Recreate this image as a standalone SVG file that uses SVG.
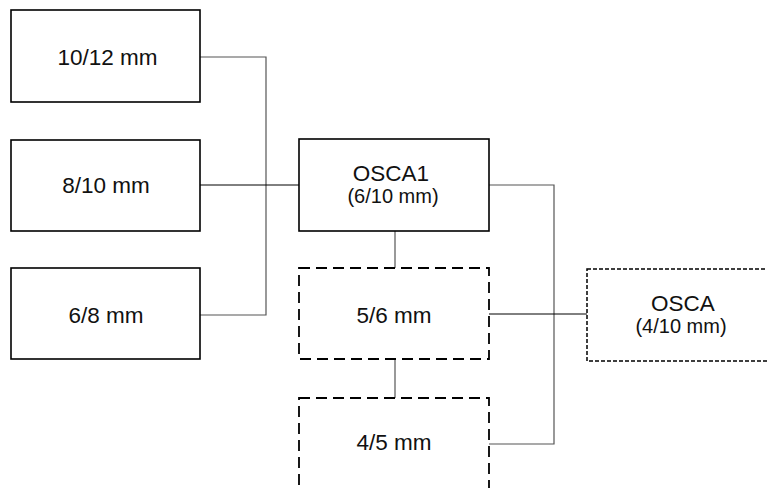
<svg xmlns="http://www.w3.org/2000/svg" width="767" height="488" viewBox="0 0 767 488">
<style>
.box{fill:#fff;stroke:#000;stroke-width:1.6}
.dash{fill:#fff;stroke:#000;stroke-width:1.8;stroke-dasharray:11 6}
.fine{fill:#fff;stroke:#000;stroke-width:1.5;stroke-dasharray:4 2}
.t{font-family:"Liberation Sans",Arial,sans-serif;font-size:22.5px;fill:#111;text-anchor:middle}
.s{font-family:"Liberation Sans",Arial,sans-serif;font-size:20px;fill:#111;text-anchor:middle}
.c{fill:none;stroke:#555;stroke-width:1.2}
.k{fill:none;stroke:#000;stroke-width:1}
</style>
<rect width="767" height="488" fill="#fff"/>
<g id="connectors">
<polyline class="c" points="200,57 266,57 266,315 200,315"/>
<line class="k" x1="200" y1="185" x2="299" y2="185"/>
<line class="c" x1="395" y1="231" x2="395" y2="268"/>
<line class="c" x1="395" y1="359" x2="395" y2="398"/>
<polyline class="c" points="489,185 554,185 554,444 489,444"/>
<line class="k" x1="489" y1="314" x2="587" y2="314"/>
</g>
<g id="n1012"><rect class="box" x="11" y="10" width="189" height="92"/><text class="t" x="107.5" y="65">10/12 mm</text></g>
<g id="n810"><rect class="box" x="11" y="140" width="189" height="91"/><text class="t" x="106" y="193">8/10 mm</text></g>
<g id="n68"><rect class="box" x="11" y="268" width="189" height="91"/><text class="t" x="106" y="323">6/8 mm</text></g>
<g id="osca1"><rect class="box" x="299" y="139" width="190" height="92"/><text class="t" x="391" y="181">OSCA1</text><text class="s" x="393" y="203">(6/10 mm)</text></g>
<g id="n56"><rect class="dash" x="299" y="268" width="190" height="91"/><text class="t" x="394" y="323">5/6 mm</text></g>
<g id="n45"><rect class="dash" x="299" y="398" width="190" height="100"/><text class="t" x="394" y="450">4/5 mm</text></g>
<g id="osca"><rect class="fine" x="587" y="269" width="200" height="92"/><text class="t" x="683" y="311">OSCA</text><text class="s" x="681" y="333">(4/10 mm)</text></g>
</svg>
